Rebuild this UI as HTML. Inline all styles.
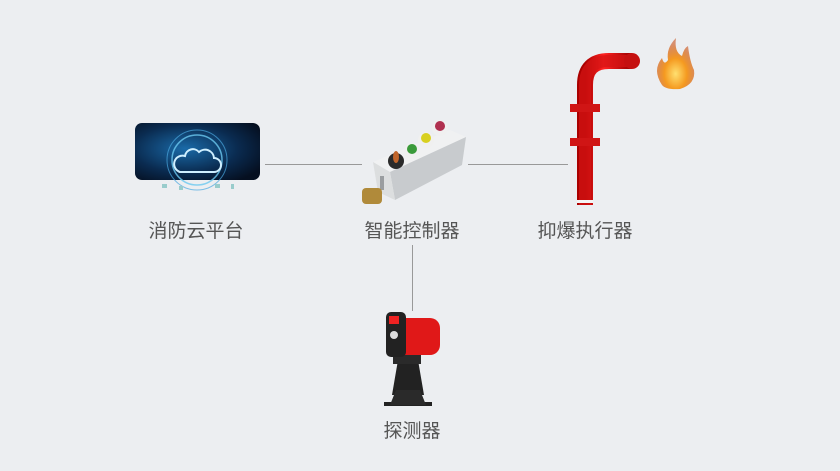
<!DOCTYPE html>
<html><head><meta charset="utf-8"><style>
html,body{margin:0;padding:0}
body{width:840px;height:471px;background:#eceef1;position:relative;overflow:hidden;font-family:"Liberation Sans","Noto Sans CJK SC",sans-serif}
.lbl{position:absolute;font-size:19px;color:#555;white-space:nowrap;transform:translateX(-50%)}
.ln{position:absolute;background:#999}
</style></head><body>
<div class="ln" style="left:265px;top:164px;width:97px;height:1px"></div>
<div class="ln" style="left:468px;top:164px;width:100px;height:1px"></div>
<div class="ln" style="left:412px;top:245px;width:1px;height:66px"></div>

<svg width="840" height="471" style="position:absolute;left:0;top:0">
<defs>
<radialGradient id="cg" cx="0.4" cy="0.45" r="0.7"><stop offset="0" stop-color="#1a6aa8"/><stop offset="0.6" stop-color="#0a2b50"/><stop offset="1" stop-color="#050f20"/></radialGradient>
<linearGradient id="pg" x1="0" x2="1"><stop offset="0" stop-color="#a00"/><stop offset="0.4" stop-color="#f22"/><stop offset="1" stop-color="#900"/></linearGradient>
<radialGradient id="fg" cx="0.5" cy="0.7" r="0.6"><stop offset="0" stop-color="#ffe070"/><stop offset="0.5" stop-color="#f59a20"/><stop offset="1" stop-color="#c8501a" stop-opacity="0.6"/></radialGradient>
</defs>
<rect x="135" y="123" width="125" height="57" rx="7" fill="url(#cg)"/>
<circle cx="197" cy="160" r="30" fill="none" stroke="#4aa8e0" stroke-width="1" opacity="0.7"/>
<circle cx="197" cy="160" r="25" fill="none" stroke="#6cc8f0" stroke-width="1.5" opacity="0.8"/>
<path d="M180 172 h34 a7 7 0 0 0 0-14 a9 9 0 0 0-15-6 a8 8 0 0 0-14 4 a7 7 0 0 0-5 16z" fill="none" stroke="#cfefff" stroke-width="2"/>
<g fill="#9cc"><rect x="162" y="184" width="5" height="4"/><rect x="179" y="186" width="4" height="4"/><rect x="215" y="184" width="5" height="4"/><rect x="231" y="184" width="3" height="5"/></g>
<!-- controller -->
<polygon points="373,162 450,130 466,137 390,172" fill="#f0f1f2"/>
<polygon points="390,172 466,137 462,165 395,200" fill="#c8cbce"/>
<polygon points="373,162 390,172 395,200 378,192" fill="#dcdedf"/>
<rect x="380" y="176" width="4" height="14" fill="#9a9da0"/>
<rect x="362" y="188" width="20" height="16" rx="4" fill="#b08a3a"/>
<circle cx="396" cy="161" r="8" fill="#2a2a2a"/><ellipse cx="396" cy="157" rx="3" ry="6" fill="#c0642a"/>
<circle cx="412" cy="151" r="8" fill="#f0f0f0"/><circle cx="412" cy="149" r="5" fill="#3a9a3a"/>
<circle cx="426" cy="140" r="8" fill="#f0f0f0"/><circle cx="426" cy="138" r="5" fill="#d8d020"/>
<circle cx="440" cy="128" r="8" fill="#f0f0f0"/><circle cx="440" cy="126" r="5" fill="#b03050"/>
<!-- pipe -->
<path d="M585 205 V85 Q585 61 609 61 H632" fill="none" stroke="url(#pg)" stroke-width="16"/>
<path d="M585 205 V85 Q585 61 609 61 H632" fill="none" stroke="#d41414" stroke-width="12" opacity="0.7"/>
<circle cx="632" cy="61" r="8" fill="#c51010"/>
<rect x="570" y="104" width="30" height="8" fill="#d01515"/>
<rect x="570" y="138" width="30" height="8" fill="#d01515"/>
<rect x="577" y="200" width="16" height="3" fill="#f4f4f4"/>
<path d="M662 85 Q652 70 662 58 Q664 66 668 60 Q666 48 676 38 Q674 52 682 56 Q684 48 688 46 Q690 62 694 70 Q696 84 680 89 Q666 90 662 85z" fill="url(#fg)"/>
<!-- detector -->
<polygon points="398,360 418,360 424,395 392,395" fill="#222"/>
<rect x="384" y="402" width="48" height="4" fill="#222"/>
<polygon points="390,405 426,405 420,390 396,390" fill="#2a2a2a"/>
<rect x="393" y="346" width="28" height="18" fill="#2a2a2a"/>
<rect x="395" y="318" width="45" height="37" rx="10" fill="#e01818"/>
<rect x="386" y="312" width="20" height="45" rx="5" fill="#222"/>
<rect x="389" y="316" width="10" height="8" fill="#e22"/>
<circle cx="394" cy="335" r="4" fill="#ddd"/>
</svg>

<div class="lbl" style="left:196px;top:216px">消防云平台</div>
<div class="lbl" style="left:412px;top:216px">智能控制器</div>
<div class="lbl" style="left:585px;top:216px">抑爆执行器</div>
<div class="lbl" style="left:412px;top:416px">探测器</div>
</body></html>
